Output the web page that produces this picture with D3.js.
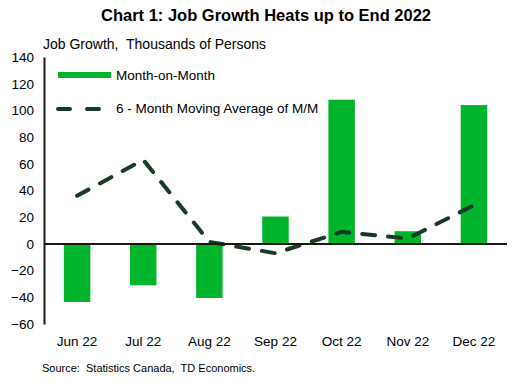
<!DOCTYPE html>
<html>
<head>
<meta charset="utf-8">
<script src="https://cdn.jsdelivr.net/npm/d3@7"></script>
<style>
  body { margin: 0; background: #fff; }
  text { font-family: "Liberation Sans", Arial, sans-serif; fill: #000; white-space: pre; }
</style>
</head>
<body>
<script>
var width = 517;
var height = 385;

// data
var months = ["Jun 22", "Jul 22", "Aug 22", "Sep 22", "Oct 22", "Nov 22", "Dec 22"];
var monthOnMonth = [-43.5, -31, -40.5, 20.5, 108, 9.5, 104];
var movingAvg = [36, 63, 1.5, -7, 9, 4, 29];
var yTicks = [-60, -40, -20, 0, 20, 40, 60, 80, 100, 120, 140];

var green = "#00b52b";
var dark = "#1b3a25";

var margin = { top: 57, right: 10, bottom: 61, left: 44 };

var svg = d3.select("body").append("svg")
    .attr("width", width)
    .attr("height", height);

var x = d3.scaleBand()
    .domain(months)
    .range([margin.left, width - margin.right])
    .paddingInner(0.6)
    .paddingOuter(0.3);

var y = d3.scaleLinear()
    .domain([-60, 140])
    .range([height - margin.bottom, margin.top]);

// title
svg.append("text")
    .attr("x", 266)
    .attr("y", 21)
    .attr("text-anchor", "middle")
    .style("font-size", "16.5px")
    .style("font-weight", "bold")
    .text("Chart 1: Job Growth Heats up to End 2022");

svg.append("text")
    .attr("x", 43)
    .attr("y", 49)
    .style("font-size", "14px")
    .text("Job Growth,  Thousands of Persons");

// bars
svg.append("g").selectAll("rect")
    .data(monthOnMonth)
    .enter().append("rect")
      .attr("x", function(d, i) { return x(months[i]); })
      .attr("width", x.bandwidth())
      .attr("y", function(d) { return y(Math.max(0, d)); })
      .attr("height", function(d) { return Math.abs(y(d) - y(0)); })
      .attr("fill", green);

// moving average line
var line = d3.line()
    .x(function(d, i) { return x(months[i]) + x.bandwidth() / 2; })
    .y(function(d) { return y(d); });

svg.append("path")
    .datum(movingAvg)
    .attr("d", line)
    .attr("fill", "none")
    .attr("stroke", dark)
    .attr("stroke-width", 4)
    .attr("stroke-linecap", "round")
    .attr("stroke-dasharray", "13,13");

// y axis
var yAxis = svg.append("g")
    .attr("transform", "translate(" + margin.left + ",0)")
    .call(d3.axisLeft(y).tickValues(yTicks).tickSize(0).tickPadding(10));
yAxis.select(".domain").attr("stroke", "#1a1a0e").attr("stroke-width", 2);
yAxis.selectAll("text").style("font-size", "13.5px").attr("fill", "#000")
    .style("font-family", "'Liberation Sans', Arial, sans-serif");

// zero line
svg.append("line")
    .attr("x1", margin.left)
    .attr("x2", width - margin.right)
    .attr("y1", y(0))
    .attr("y2", y(0))
    .attr("stroke", "#1a1a0e")
    .attr("stroke-width", 2);

// x labels
var xAxis = svg.append("g")
    .attr("transform", "translate(0," + (height - margin.bottom) + ")")
    .call(d3.axisBottom(x).tickSize(0).tickPadding(12));
xAxis.select(".domain").remove();
xAxis.selectAll("text").style("font-size", "13.5px").attr("fill", "#000")
    .style("font-family", "'Liberation Sans', Arial, sans-serif");

// legend
var legend = svg.append("g");
legend.append("rect")
    .attr("x", 58).attr("y", 72)
    .attr("width", 53).attr("height", 6)
    .attr("fill", green);
legend.append("text")
    .attr("x", 116).attr("y", 80)
    .style("font-size", "13.5px")
    .text("Month-on-Month");
legend.append("line")
    .attr("x1", 58).attr("x2", 101)
    .attr("y1", 109).attr("y2", 109)
    .attr("stroke", dark)
    .attr("stroke-width", 4)
    .attr("stroke-linecap", "round")
    .attr("stroke-dasharray", "12,17");
legend.append("text")
    .attr("x", 116).attr("y", 113)
    .style("font-size", "13.5px")
    .text("6 - Month Moving Average of M/M");

// source
svg.append("text")
    .attr("x", 42)
    .attr("y", 372)
    .style("font-size", "11px")
    .text("Source:  Statistics Canada,  TD Economics.");
</script>
</body>
</html>
